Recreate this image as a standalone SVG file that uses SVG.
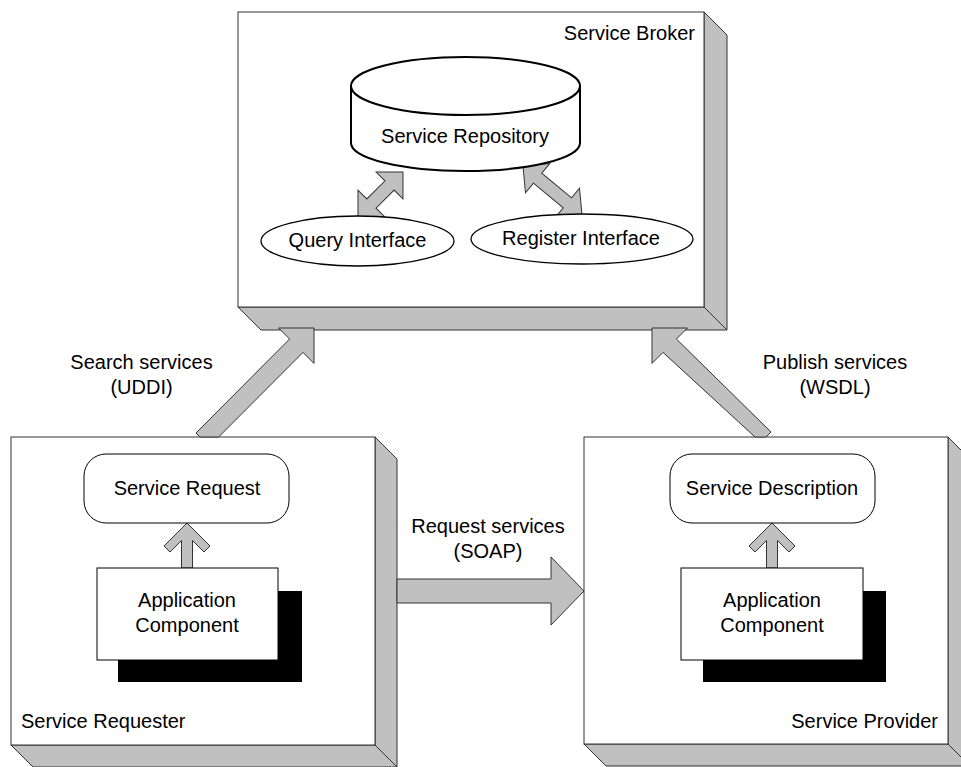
<svg xmlns="http://www.w3.org/2000/svg" width="961" height="767" viewBox="0 0 961 767">
<style>
text{font-family:"Liberation Sans",Arial,sans-serif;font-size:20px;fill:#000}
.front{fill:#fff;stroke:#333;stroke-width:1}
.shade{fill:#c0c0c0;stroke:#333;stroke-width:1;stroke-linejoin:miter}
.arrow{fill:#c0c0c0;stroke:#333;stroke-width:1;stroke-linejoin:miter}
.ell{fill:#fff;stroke:#000;stroke-width:1.3}
.cyl{fill:#fff;stroke:#000;stroke-width:2}
.rr{fill:#fff;stroke:#000;stroke-width:1}
.comp{fill:#fff;stroke:#000;stroke-width:1}
.m{text-anchor:middle}
</style>
<rect width="961" height="767" fill="#fff"/>
<g id="broker">
<polygon class="shade" points="704,12 727,35 727,330 704,307"/>
<polygon class="shade" points="238,307 704,307 727,330 261,330"/>
<rect class="front" x="238" y="12" width="466" height="295"/>
<text x="695" y="40" text-anchor="end">Service Broker</text>
</g>
<g id="requester">
<polygon class="shade" points="375,437 397,459 397,767 375,745"/>
<polygon class="shade" points="11,745 375,745 397,767 33,767"/>
<rect class="front" x="11" y="437" width="364" height="308"/>
<text x="21" y="728">Service Requester</text>
</g>
<g id="provider">
<polygon class="shade" points="948,437 970,459 970,766 948,744"/>
<polygon class="shade" points="584,744 948,744 970,766 606,766"/>
<rect class="front" x="584" y="437" width="364" height="307"/>
<text x="938" y="728" text-anchor="end">Service Provider</text>
</g>
<g id="connectors">
<polygon class="arrow" points="314,328 314,363.4 303,352.4 218.6,437 200,437 196,433 289.6,339 278.6,328"/>
<polygon class="arrow" points="652,328 687.4,328 676.4,339 771,432 766,437 755,437 663,352.4 652,363.4"/>
<polygon class="arrow" points="397,579 551,579 551,557 584,591 551,625 551,603 397,603"/>
<polygon class="arrow" transform="translate(358,217) rotate(-45)" points="0,0 19,-19 19,-6.5 44.6,-6.5 44.6,-19 63.6,0 44.6,19 44.6,6.5 19,6.5 19,19"/>
<polygon class="arrow" transform="translate(523,166) rotate(39.7)" points="0,0 19,-19 19,-6.5 57.7,-6.5 57.7,-19 76.7,0 57.7,19 57.7,6.5 19,6.5 19,19"/>
<polygon class="arrow" points="187,523 210,546 204,552 192.5,540.5 192.5,568 181.5,568 181.5,540.5 170,552 164,546"/>
<polygon class="arrow" points="772,523 795,546 789,552 777.5,540.5 777.5,568 766.5,568 766.5,540.5 755,552 749,546"/>
<text class="m" x="141.5" y="369">Search services</text>
<text class="m" x="141.5" y="394">(UDDI)</text>
<text class="m" x="835" y="369">Publish services</text>
<text class="m" x="835" y="394">(WSDL)</text>
<text class="m" x="488" y="533">Request services</text>
<text class="m" x="488" y="558">(SOAP)</text>
</g>
<g id="repository">
<path class="cyl" d="M351,86 L351,143 A114.5,28 0 0 0 580,143 L580,86 Z"/>
<ellipse class="cyl" cx="465.5" cy="86" rx="114.5" ry="29"/>
<text class="m" x="465" y="143">Service Repository</text>
</g>
<g id="query">
<ellipse class="ell" cx="357.5" cy="241" rx="96.5" ry="25"/>
<text class="m" x="357.5" y="247">Query Interface</text>
</g>
<g id="register">
<ellipse class="ell" cx="582" cy="239" rx="111" ry="25"/>
<text class="m" x="581" y="245">Register Interface</text>
</g>
<g id="serviceRequest">
<rect class="rr" x="84" y="454" width="205" height="69" rx="22" ry="22"/>
<text class="m" x="187" y="495">Service Request</text>
</g>
<g id="appComponent1">
<rect x="118" y="591" width="184" height="91" fill="#000"/>
<rect class="comp" x="97" y="568" width="181" height="92"/>
<text class="m" x="187" y="607">Application</text>
<text class="m" x="187" y="632">Component</text>
</g>
<g id="serviceDescription">
<rect class="rr" x="670" y="454" width="205" height="69" rx="22" ry="22"/>
<text class="m" x="772" y="495">Service Description</text>
</g>
<g id="appComponent2">
<rect x="703" y="591" width="183" height="91" fill="#000"/>
<rect class="comp" x="681" y="568" width="182" height="92"/>
<text class="m" x="772" y="607">Application</text>
<text class="m" x="772" y="632">Component</text>
</g>
</svg>
